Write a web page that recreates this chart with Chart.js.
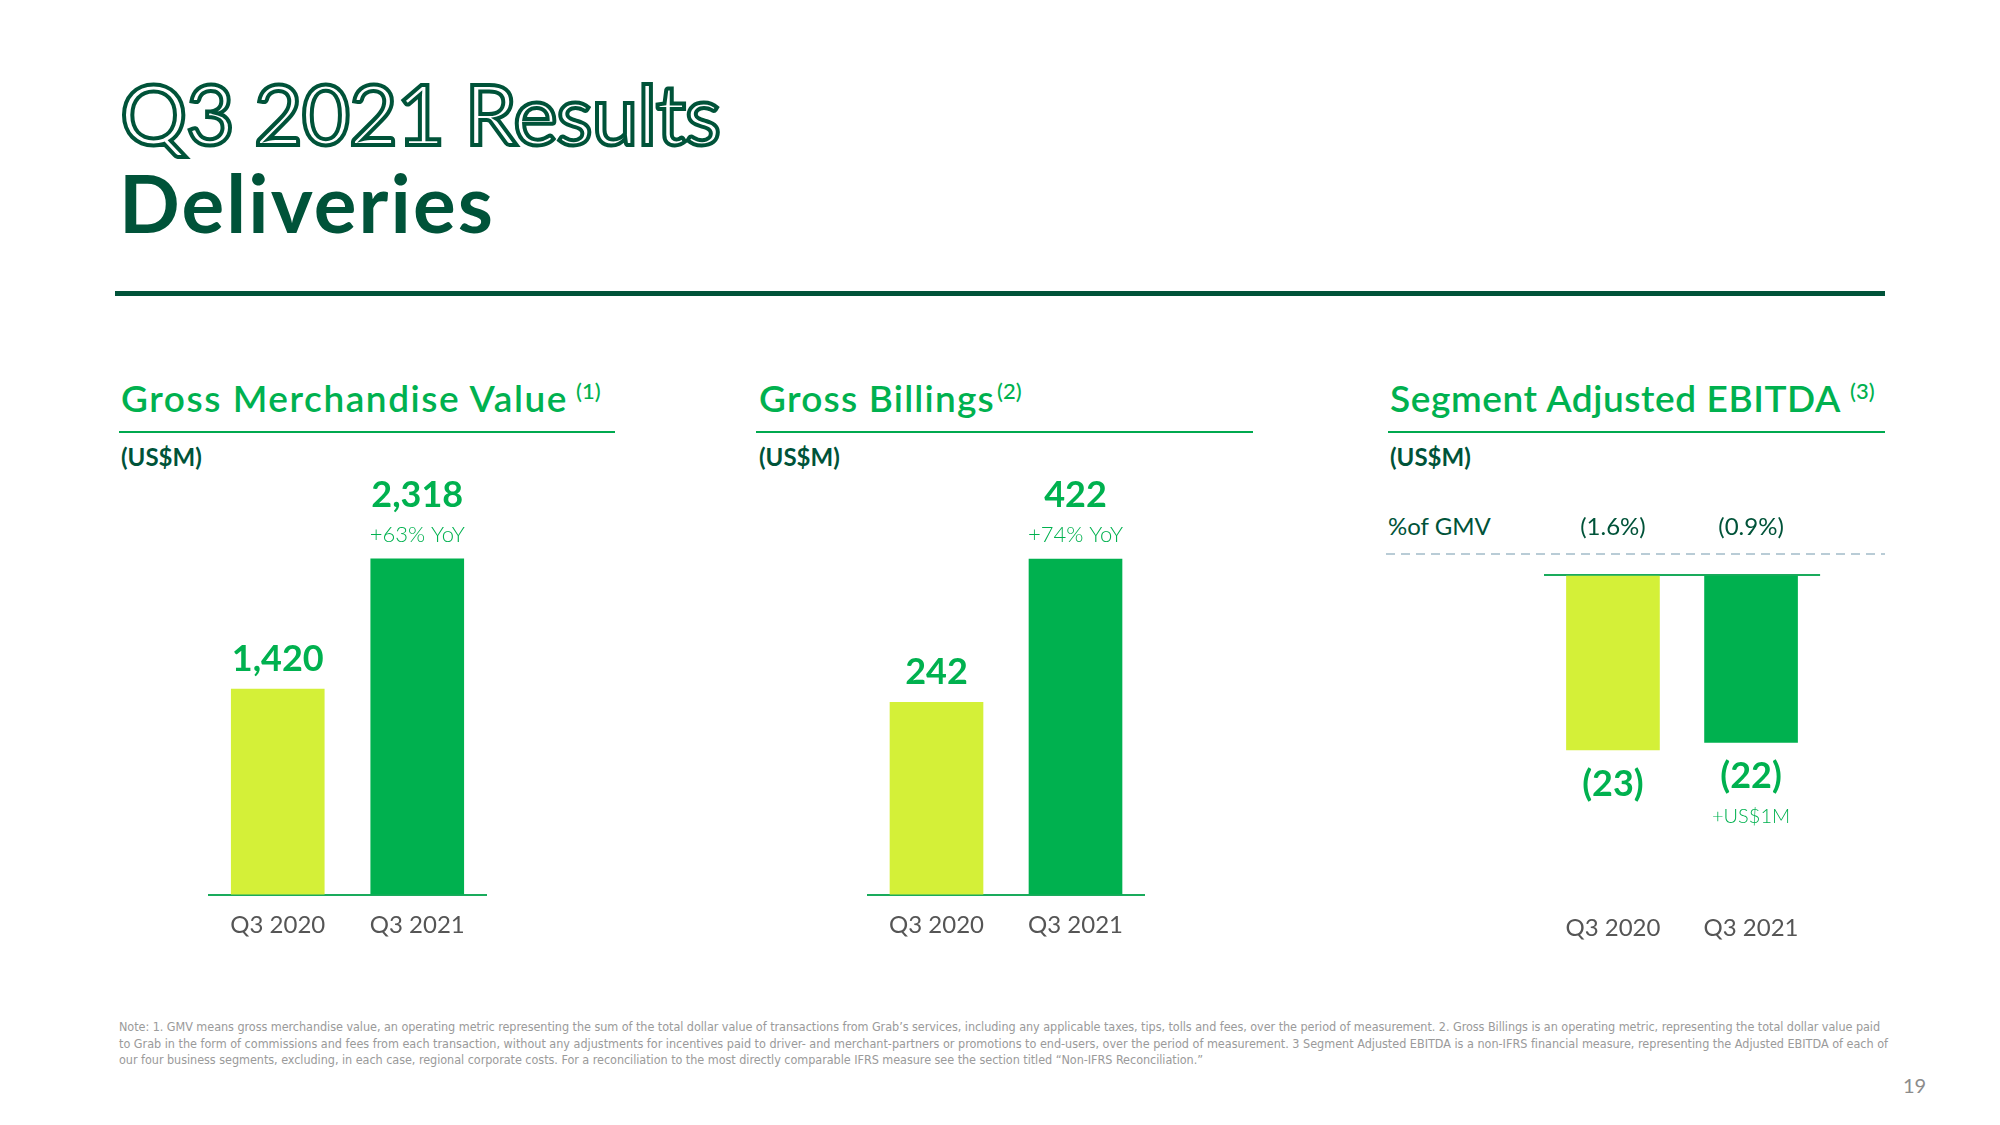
<!DOCTYPE html>
<html>
<head>
<meta charset="utf-8">
<script src="https://cdn.jsdelivr.net/npm/chart.js@4.4.1/dist/chart.umd.min.js"></script>
<style>
html, body { margin: 0; padding: 0; background: #fff; }
#page { position: relative; width: 2000px; height: 1125px; overflow: hidden; font-family: Lato, sans-serif; }
.t { position: absolute; white-space: nowrap; line-height: 1; }
canvas { position: absolute; }
</style>
</head>
<body>
<div id="page"></div>
<script>
// chart data
const quarters = ["Q3 2020", "Q3 2021"];
const gmv = [1420, 2318];
const gmvNotes = [null, "+63% YoY"];
const billings = [242, 422];
const billingsNotes = [null, "+74% YoY"];
const ebitda = [-23, -22];
const ebitdaNotes = [null, "+US$1M"];
const ebitdaPctGmv = ["(1.6%)", "(0.9%)"];

const LIME = "#d4f038";
const GREEN = "#00b14f";
const DARK = "#005339";
const page = document.getElementById("page");

// put a line of text so its baseline sits at y
function text(str, x, baseline, size, opts) {
  opts = opts || {};
  const d = document.createElement("div");
  d.className = "t";
  d.textContent = str;
  const fam = opts.family || "Lato";
  const bf = opts.bf || 0.887;
  d.style.fontFamily = fam;
  d.style.fontSize = size + "px";
  d.style.fontWeight = opts.weight || 400;
  d.style.color = opts.color || DARK;
  d.style.left = x + "px";
  d.style.top = (baseline - bf * size) + "px";
  if (opts.css) Object.assign(d.style, opts.css);
  page.appendChild(d);
  if (opts.w) d.dataset.w = opts.w;
  return d;
}

function box(x, y, w, h, color) {
  const d = document.createElement("div");
  d.style.position = "absolute";
  d.style.left = x + "px"; d.style.top = y + "px";
  d.style.width = w + "px"; d.style.height = h + "px";
  d.style.background = color;
  page.appendChild(d);
}

// heading
text("Q3 2021 Results", 120, 146, 84, {
  weight: 400, color: "#fff", w: 600,
  css: { webkitTextStroke: "4px " + DARK }
});
text("Deliveries", 119, 233, 80, { weight: 700, w: 376 });
box(115, 291, 1770, 5, DARK);

// panel headings
text("Gross Merchandise Value", 121, 412, 37, { weight: 600, color: GREEN, w: 447 });
text("(1)", 576, 400, 22, { weight: 500, color: GREEN });
text("Gross Billings", 759, 412, 37, { weight: 600, color: GREEN, w: 236 });
text("(2)", 997, 400, 22, { weight: 500, color: GREEN });
text("Segment Adjusted EBITDA", 1390, 412, 37, { weight: 600, color: GREEN, w: 451 });
text("(3)", 1850, 400, 22, { weight: 500, color: GREEN });
box(119, 431, 496, 2, "#00a94f");
box(756, 431, 497, 2, "#00a94f");
box(1388, 431, 497, 2, "#00a94f");

text("(US$M)", 121, 466, 24, { weight: 700 });
text("(US$M)", 759, 466, 24, { weight: 700 });
text("(US$M)", 1390, 466, 24, { weight: 700 });
text("%of GMV", 1388, 535, 24, { weight: 400 });

// dashed divider above the EBITDA bars
const svgNS = "http://www.w3.org/2000/svg";
const svg = document.createElementNS(svgNS, "svg");
svg.setAttribute("width", 2000); svg.setAttribute("height", 1125);
svg.style.position = "absolute"; svg.style.left = "0"; svg.style.top = "0";
const dl = document.createElementNS(svgNS, "line");
dl.setAttribute("x1", 1386); dl.setAttribute("x2", 1885);
dl.setAttribute("y1", 554); dl.setAttribute("y2", 554);
dl.setAttribute("stroke", "#b9ccd6"); dl.setAttribute("stroke-width", 2);
dl.setAttribute("stroke-dasharray", "9 6");
svg.appendChild(dl);
page.appendChild(svg);

// footnote
const fnOpts = {
  family: "'Liberation Sans Narrow', 'DejaVu Sans Condensed', 'DejaVu Sans', sans-serif",
  bf: 0.846, color: "#9a9a9a", css: { fontStretch: "condensed" }
};
text("Note: 1. GMV means gross merchandise value, an operating metric representing the sum of the total dollar value of transactions from Grab\u2019s services, including any applicable taxes, tips, tolls and fees, over the period of measurement. 2. Gross Billings is an operating metric, representing the total dollar value paid",
  119, 1032, 12.5, Object.assign({ w: 1761 }, fnOpts));
text("to Grab in the form of commissions and fees from each transaction, without any adjustments for incentives paid to driver- and merchant-partners or promotions to end-users, over the period of measurement. 3 Segment Adjusted EBITDA is a non-IFRS financial measure, representing the Adjusted EBITDA of each of",
  119, 1049, 12.5, Object.assign({ w: 1769 }, fnOpts));
text("our four business segments, excluding, in each case, regional corporate costs. For a reconciliation to the most directly comparable IFRS measure see the section titled \u201cNon-IFRS Reconciliation.\u201d",
  119, 1065, 12.5, Object.assign({ w: 1084 }, fnOpts));
text("19", 1903, 1093, 20, { color: "#8c8c8c" });

// value labels drawn at the bars
const barLabels = {
  id: "barLabels",
  afterDatasetsDraw(chart, args, opts) {
    const ctx = chart.ctx;
    const meta = chart.getDatasetMeta(0);
    const vals = chart.data.datasets[0].data;
    meta.data.forEach((bar, i) => {
      const v = vals[i];
      const note = opts.notes[i];
      ctx.save();
      ctx.textAlign = "center";
      ctx.textBaseline = "alphabetic";
      ctx.fillStyle = GREEN;
      if (v >= 0) {
        let y = bar.y - 18;
        if (note) {
          ctx.font = "300 22px Lato";
          ctx.fillText(note, bar.x, y + 1);
          y -= 34;
        }
        ctx.font = "700 36px Lato";
        ctx.fillText(v.toLocaleString("en-US"), bar.x, y);
      } else {
        ctx.font = "700 36px Lato";
        ctx.fillText("(" + Math.abs(v) + ")", bar.x, bar.y + 46);
        if (note) {
          ctx.font = "300 20px Lato";
          ctx.fillText(note, bar.x, bar.y + 81);
        }
      }
      if (opts.top) {
        ctx.font = "400 24px Lato";
        ctx.fillStyle = DARK;
        ctx.fillText(opts.top[i], bar.x, opts.topY);
      }
      ctx.restore();
    });
  }
};

function makeChart(b, values, yMin, yMax, tickPad, labelOpts) {
  const c = document.createElement("canvas");
  c.width = b.w; c.height = b.h;
  c.style.left = b.x + "px"; c.style.top = b.y + "px";
  c.style.width = b.w + "px"; c.style.height = b.h + "px";
  page.appendChild(c);
  return new Chart(c, {
    type: "bar",
    data: {
      labels: quarters,
      datasets: [{ data: values, backgroundColor: [LIME, GREEN], barThickness: 93 }]
    },
    options: {
      responsive: false,
      animation: false,
      devicePixelRatio: 1,
      layout: { padding: { top: b.padTop, left: 0, right: 0, bottom: 0 } },
      plugins: {
        legend: { display: false },
        tooltip: { enabled: false },
        barLabels: labelOpts
      },
      scales: {
        x: {
          grid: { display: false, drawTicks: false },
          border: { display: false },
          ticks: { color: "#555555", font: { family: "Lato", size: 24 }, padding: tickPad }
        },
        y: {
          min: yMin, max: yMax, z: 1,
          grid: {
            drawTicks: false, lineWidth: 2,
            color: (ctx) => (ctx.tick && ctx.tick.value === 0 ? "#1aab5c" : "rgba(0,0,0,0)")
          },
          border: { display: false },
          ticks: { display: false }
        }
      }
    },
    plugins: [barLabels]
  });
}

function fitAll() {
  page.querySelectorAll("[data-w]").forEach((el) => {
    const w = el.getBoundingClientRect().width;
    const n = el.textContent.length;
    el.style.letterSpacing = ((+el.dataset.w - w) / n) + "px";
  });
}

document.fonts.ready.then(() => {
  fitAll();
  // chart areas: bottom at 895 for the two positive panels
  makeChart({ x: 208, y: 440, w: 279, h: 516, padTop: 49 }, gmv, 0, 2800, 16, { notes: gmvNotes });
  makeChart({ x: 867, y: 440, w: 278, h: 516, padTop: 49 }, billings, 0, 510, 16, { notes: billingsNotes });
  makeChart({ x: 1543, y: 490, w: 278, h: 475, padTop: 85 }, ebitda, -41.5, 0, 22.7,
    { notes: ebitdaNotes, top: ebitdaPctGmv, topY: 45 });
});
</script>
</body>
</html>
